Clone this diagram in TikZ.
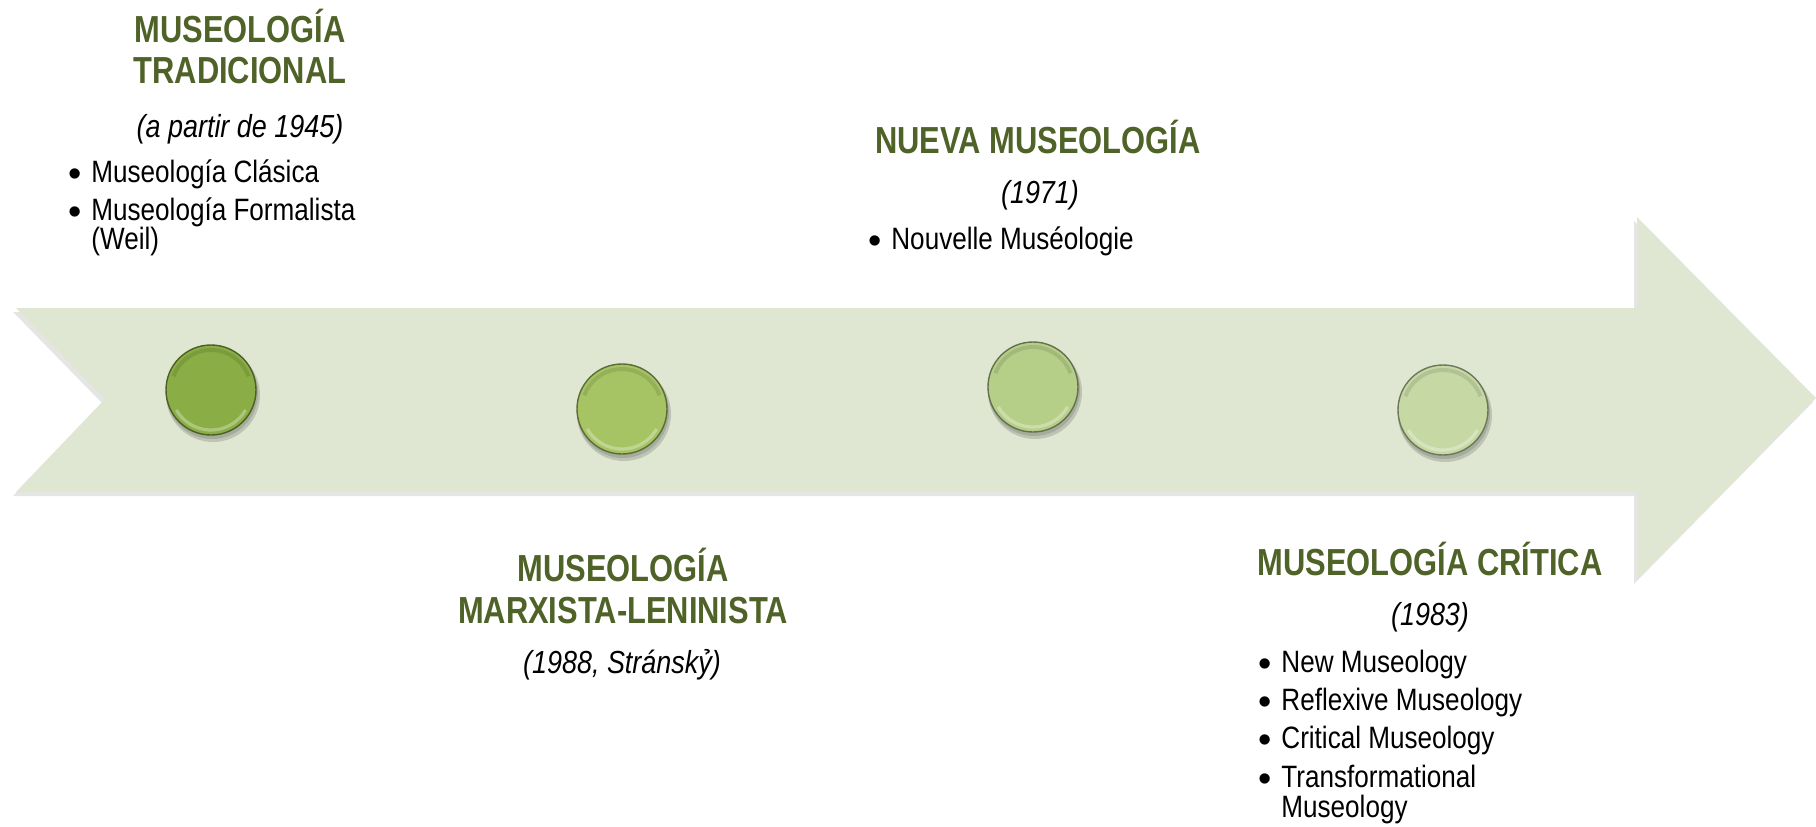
\documentclass[tikz,border=0pt]{standalone}
\usepackage{fontspec}
\setmainfont{Liberation Sans}[FakeStretch=0.82]
\newfontfamily\bodyfont{Liberation Sans}[FakeStretch=0.845]
\newfontfamily\bulletfont{Liberation Sans}
\definecolor{arrowfill}{HTML}{DFE7D3}
\definecolor{titlegreen}{HTML}{4F6228}
\definecolor{cA}{HTML}{8AAE45}
\definecolor{cB}{HTML}{A6C464}
\definecolor{cC}{HTML}{B6CF88}
\definecolor{cD}{HTML}{C6D9A5}
\newcommand{\bul}{\llap{\raisebox{-2bp}{\bulletfont\fontsize{19}{19}\selectfont •}\hspace{4.8bp}}}
\begin{document}
\begin{tikzpicture}[x=0.5bp,y=-0.5bp,
  ttl/.style={anchor=base,inner sep=0,text=titlegreen,font=\fontsize{18.9}{20}\selectfont\bfseries},
  dat/.style={anchor=base,inner sep=0,font=\bodyfont\fontsize{16}{18}\selectfont\itshape},
  itm/.style={anchor=base west,inner sep=0,font=\bodyfont\fontsize{15.5}{18}\selectfont},
  knob/.style={circle,inner sep=0,minimum size=45bp,line width=0.7bp}]
\useasboundingbox (0,0) rectangle (1816,827);
% arrow shadow
\fill[black,opacity=0.10] (13,312) -- (1634,312) -- (1634,221) -- (1813,402) -- (1634,584) -- (1634,496) -- (13,496) -- (102,403) -- cycle;
% arrow
\fill[arrowfill] (16,308) -- (1637,308) -- (1637,217) -- (1816,398) -- (1637,580) -- (1637,492) -- (16,492) -- (105,399) -- cycle;
% knobs
\foreach \nm/\px/\py/\col in {k1/211/390/cA,k2/622/409/cB,k3/1033/387/cC,k4/1443/410/cD}{
  \fill[black,opacity=0.15] (\px+2,\py+5) circle (47);
  \fill[black,opacity=0.12] (\px+1,\py+3) circle (46);
  \node[knob,fill=\col,draw=\col!55!black] (\nm) at (\px,\py) {};
  \draw[white,opacity=0.3,line width=1.6bp] ([shift={(\px,\py)}]150:40) arc (150:30:40);
  \draw[black,opacity=0.10,line width=2bp] ([shift={(\px,\py)}]200:40) arc (200:340:40);
}
% Museologia tradicional
\node[ttl] (t1a) at (240,42) {MUSEOLOGÍA};
\node[ttl] (t1b) at (240,83) {TRADICIONAL};
\node[dat] (d1) at (240,137) {(a partir de 1945)};
\node[itm] (i1a) at (91,182) {\bul Museología Clásica};
\node[itm] (i1b) at (91,220) {\bul Museología Formalista};
\node[itm] (i1c) at (91,249) {(Weil)};
% Nueva museologia
\node[ttl] (t3) at (1038,153) {NUEVA MUSEOLOGÍA};
\node[dat] (d3) at (1040,203) {(1971)};
\node[itm] (i3a) at (891,249) {\bul Nouvelle Muséologie};
% Marxista-leninista
\node[ttl] (t2a) at (623,581) {MUSEOLOGÍA};
\node[ttl] (t2b) at (623,623) {MARXISTA-LENINISTA};
\node[dat] (d2) at (622,673) {(1988, Stránskỷ)};
% Critica
\node[ttl] (t4) at (1430,575) {MUSEOLOGÍA CRÍTICA};
\node[dat] (d4) at (1430,625) {(1983)};
\node[itm] (i4a) at (1281,672) {\bul New Museology};
\node[itm] (i4b) at (1281,710) {\bul Reflexive Museology};
\node[itm] (i4c) at (1281,748) {\bul Critical Museology};
\node[itm] (i4d) at (1281,787) {\bul Transformational};
\node[itm] (i4e) at (1281,817) {Museology};
\end{tikzpicture}
\end{document}
